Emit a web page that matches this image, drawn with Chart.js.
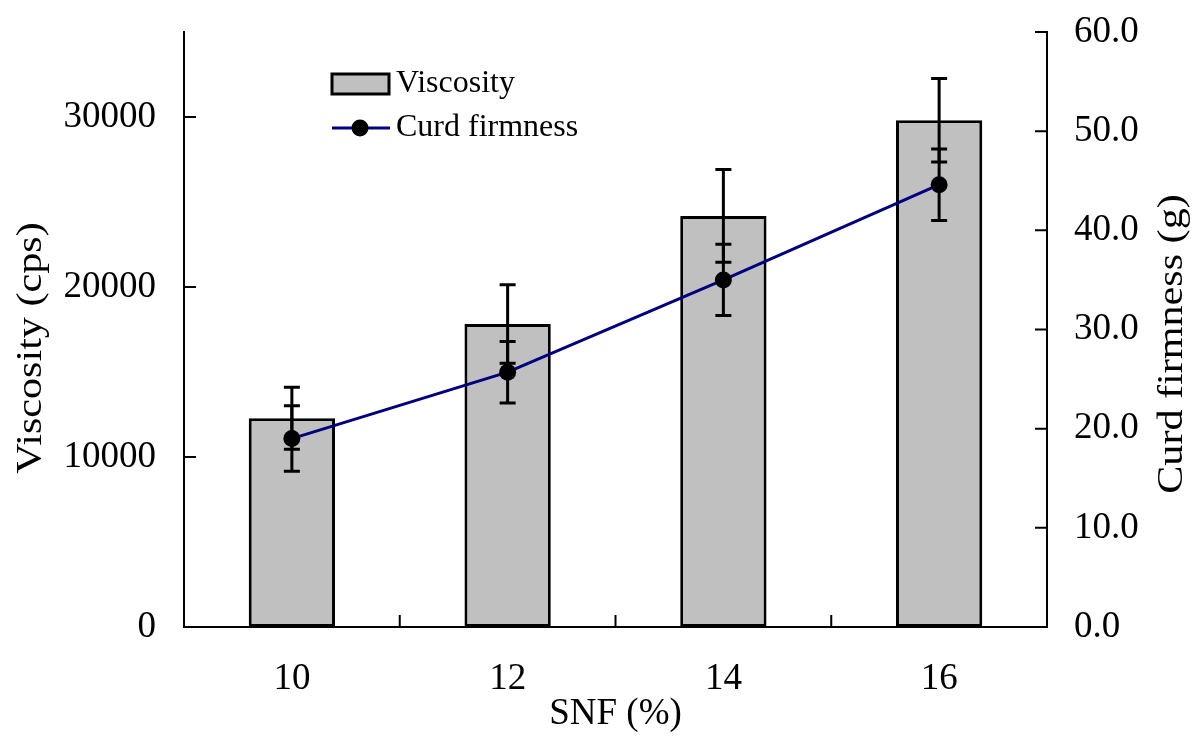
<!DOCTYPE html>
<html>
<head>
<meta charset="utf-8">
<script src="https://cdn.jsdelivr.net/npm/chart.js@4"></script>
<style>
html, body { margin: 0; padding: 0; background: #fff; }
</style>
</head>
<body>
<canvas id="chart" width="1200" height="736"></canvas>
<script>
// data
const snfLevels = ['10', '12', '14', '16'];
const viscosity = [12280, 17820, 24180, 29810];
const viscosityErr = [1820, 2310, 2730, 2450];
const curdFirmness = [19.0, 25.7, 35.0, 44.6];
const curdErr = [3.3, 3.1, 3.6, 3.6];
const viscosityTicks = [0, 10000, 20000, 30000];
const firmnessTicks = [0, 10, 20, 30, 40, 50, 60];
const leftTitle = 'Viscosity (cps)';
const rightTitle = 'Curd firmness (g)';

const serif = 'Liberation Serif';

// error bars for both series
const errorBarPlugin = {
    id: 'errorBars',
    afterDatasetsDraw(chart) {
        const ctx = chart.ctx;
        ctx.save();
        ctx.strokeStyle = '#000';
        ctx.lineWidth = 3;
        const sets = [
            [0, viscosity, viscosityErr, 'yVisc'],
            [1, curdFirmness, curdErr, 'yCurd']
        ];
        sets.forEach(([di, vals, errs, axis]) => {
            const meta = chart.getDatasetMeta(di);
            const yScale = chart.scales[axis];
            meta.data.forEach((el, i) => {
                const x = el.x;
                const top = yScale.getPixelForValue(vals[i] + errs[i]);
                const bot = yScale.getPixelForValue(vals[i] - errs[i]);
                ctx.beginPath();
                ctx.moveTo(x, top); ctx.lineTo(x, bot);
                ctx.moveTo(x - 8, top); ctx.lineTo(x + 8, top);
                ctx.moveTo(x - 8, bot); ctx.lineTo(x + 8, bot);
                ctx.stroke();
            });
        });
        ctx.restore();
    }
};

// inward tick marks on all three axes
const innerTicksPlugin = {
    id: 'innerTicks',
    afterDraw(chart) {
        const ctx = chart.ctx;
        const area = chart.chartArea;
        const len = 12;
        ctx.save();
        ctx.strokeStyle = '#000';
        ctx.lineWidth = 2;
        ctx.beginPath();
        viscosityTicks.forEach(v => {
            const y = chart.scales.yVisc.getPixelForValue(v);
            ctx.moveTo(area.left, y); ctx.lineTo(area.left + len, y);
        });
        firmnessTicks.forEach(v => {
            const y = chart.scales.yCurd.getPixelForValue(v);
            ctx.moveTo(area.right, y); ctx.lineTo(area.right - len, y);
        });
        const step = (area.right - area.left) / snfLevels.length;
        for (let i = 0; i <= snfLevels.length; i++) {
            const x = area.left + i * step;
            ctx.moveTo(x, area.bottom); ctx.lineTo(x, area.bottom - len);
        }
        ctx.stroke();
        ctx.restore();
    }
};

// both vertical titles read bottom to top, slightly stretched like the original
const sideTitlesPlugin = {
    id: 'sideTitles',
    afterDraw(chart) {
        const ctx = chart.ctx;
        const draw = (text, x, y) => {
            ctx.save();
            ctx.translate(x, y);
            ctx.rotate(-Math.PI / 2);
            ctx.scale(1.17, 1);
            ctx.font = '36px "' + serif + '"';
            ctx.fillStyle = '#000';
            ctx.textAlign = 'center';
            ctx.textBaseline = 'middle';
            ctx.fillText(text, 0, 0);
            ctx.restore();
        };
        draw(leftTitle, 32, 348);
        draw(rightTitle, 1173, 344);
    }
};

// legend inside the plot, upper left
const innerLegendPlugin = {
    id: 'innerLegend',
    afterDraw(chart) {
        const ctx = chart.ctx;
        const area = chart.chartArea;
        const x0 = area.left + 148;
        const y0 = area.top + 42;
        ctx.save();
        // viscosity swatch
        ctx.fillStyle = '#C0C0C0';
        ctx.fillRect(x0, y0, 57, 20);
        ctx.strokeStyle = '#000';
        ctx.lineWidth = 3;
        ctx.strokeRect(x0, y0, 57, 20);
        // curd firmness swatch
        ctx.strokeStyle = '#000080';
        ctx.beginPath();
        ctx.moveTo(x0, y0 + 54); ctx.lineTo(x0 + 58, y0 + 54);
        ctx.stroke();
        ctx.fillStyle = '#000';
        ctx.beginPath();
        ctx.arc(x0 + 28, y0 + 54, 8.5, 0, Math.PI * 2);
        ctx.fill();
        // labels
        ctx.font = '32px "' + serif + '"';
        ctx.textBaseline = 'middle';
        ctx.fillText(chart.data.datasets[0].label, x0 + 64, y0 + 10);
        ctx.fillText(chart.data.datasets[1].label, x0 + 64, y0 + 54);
        ctx.restore();
    }
};

// let the outer layout padding decide where the plot starts
const noLabelPadding = s => { s.paddingTop = 0; s.paddingBottom = 0; };

const ctx = document.getElementById('chart').getContext('2d');
new Chart(ctx, {
    type: 'bar',
    data: {
        labels: snfLevels,
        datasets: [
            {
                type: 'bar',
                label: 'Viscosity',
                data: viscosity,
                yAxisID: 'yVisc',
                backgroundColor: '#C0C0C0',
                borderColor: '#000',
                borderWidth: 3,
                borderSkipped: false,
                barPercentage: 0.4,
                categoryPercentage: 1.0,
                order: 2
            },
            {
                type: 'line',
                label: 'Curd firmness',
                data: curdFirmness,
                yAxisID: 'yCurd',
                borderColor: '#000080',
                borderWidth: 3,
                pointRadius: 8.5,
                pointBackgroundColor: '#000',
                pointBorderColor: '#000',
                pointBorderWidth: 0,
                tension: 0,
                order: 1
            }
        ]
    },
    options: {
        responsive: false,
        animation: false,
        layout: { padding: { top: 32, left: 0, right: 0, bottom: 0 } },
        plugins: {
            legend: { display: false },
            tooltip: { enabled: false }
        },
        scales: {
            x: {
                grid: { display: false, drawTicks: false },
                border: { display: true, color: '#000', width: 2 },
                ticks: { color: '#000', padding: 30, font: { family: serif, size: 37 } },
                title: { display: true, text: 'SNF (%)', color: '#000', padding: 0, font: { family: serif, size: 37 } },
                afterFit: s => { s.height = 109; s.paddingLeft = 0; s.paddingRight = 0; }
            },
            yVisc: {
                position: 'left',
                min: 0,
                max: 35000,
                grid: { display: false, drawTicks: false },
                border: { display: true, color: '#000', width: 2 },
                afterBuildTicks: s => { s.ticks = viscosityTicks.map(v => ({ value: v })); },
                ticks: {
                    color: '#000', padding: 28,
                    font: { family: serif, size: 37 },
                    callback: v => String(v)
                },
                title: { display: false },
                afterFit: s => { s.width = 184; noLabelPadding(s); }
            },
            yCurd: {
                position: 'right',
                min: 0,
                max: 60,
                grid: { display: false, drawTicks: false },
                border: { display: true, color: '#000', width: 2 },
                afterBuildTicks: s => { s.ticks = firmnessTicks.map(v => ({ value: v })); },
                ticks: {
                    color: '#000', padding: 27,
                    font: { family: serif, size: 37 },
                    callback: v => Number(v).toFixed(1)
                },
                title: { display: false },
                afterFit: s => { s.width = 153; noLabelPadding(s); }
            }
        }
    },
    plugins: [errorBarPlugin, innerTicksPlugin, sideTitlesPlugin, innerLegendPlugin]
});
</script>
</body>
</html>
